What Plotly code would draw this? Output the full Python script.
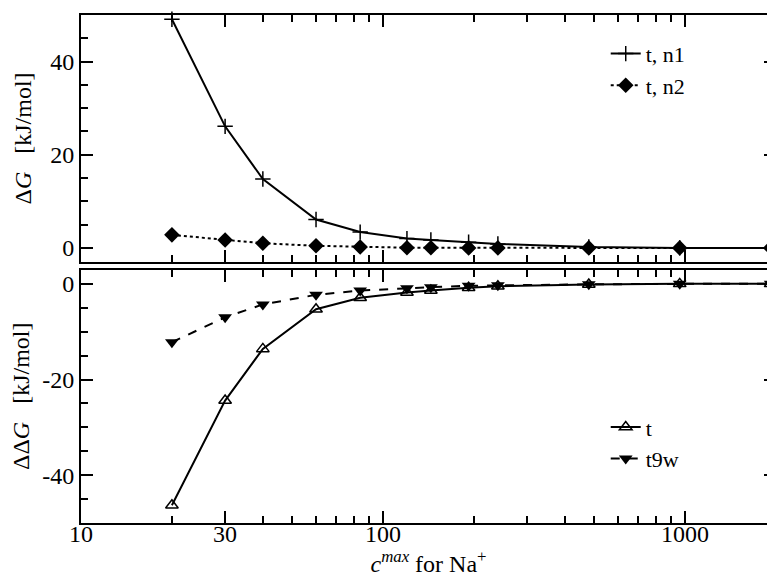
import numpy as np
import plotly.graph_objects as go

# ---------------------------------------------------------------------------
# Data
# ---------------------------------------------------------------------------
c_max = [20, 30, 40, 60, 84, 120, 144, 192, 240, 480, 960, 1920]

dG_n1 = [49.1, 26.1, 14.8, 6.1, 3.4, 2.0, 1.7, 1.2, 0.85, 0.2, 0.0, 0.0]
dG_n2 = [2.8, 1.7, 1.0, 0.45, 0.2, 0.05, 0.05, 0.0, 0.0, 0.0, 0.0, 0.0]

ddG_t = [-46.3, -24.4, -13.6, -5.3, -2.9, -1.8, -1.4, -0.8, -0.5, -0.15, 0.0, 0.0]
ddG_t9w = [-12.2, -7.0, -4.3, -2.3, -1.4, -0.9, -0.7, -0.4, -0.3, -0.1, 0.0, 0.0]

x_major = [10, 30, 100, 1000]
x_minor = [20, 40, 50, 60, 70, 80, 90, 200, 300, 400, 500, 600, 700, 800, 900]
y_top_ticks = [0, 20, 40]
y_bot_ticks = [-40, -20, 0]

FONT = "Liberation Serif, Times New Roman, Times, serif"
FS = 24

# ---------------------------------------------------------------------------
# Figure
# ---------------------------------------------------------------------------
fig = go.Figure()

fig.add_trace(go.Scatter(
    x=c_max, y=dG_n1, mode='lines+markers', name='t, n1',
    line=dict(color='black', width=2),
    marker=dict(symbol='cross-thin', size=11, line=dict(color='black', width=1.5)),
    xaxis='x', yaxis='y', legend='legend', cliponaxis=False
))
fig.add_trace(go.Scatter(
    x=c_max, y=dG_n2, mode='lines+markers', name='t, n2',
    line=dict(color='black', width=2, dash='dot'),
    marker=dict(symbol='diamond', size=12, color='black'),
    xaxis='x', yaxis='y', legend='legend', cliponaxis=False
))
fig.add_trace(go.Scatter(
    x=c_max, y=ddG_t, mode='lines+markers', name='t',
    line=dict(color='black', width=2),
    marker=dict(symbol='triangle-up-open', size=11, color='black',
                line=dict(width=1.5)),
    xaxis='x2', yaxis='y2', legend='legend2', cliponaxis=False
))
fig.add_trace(go.Scatter(
    x=c_max, y=ddG_t9w, mode='lines+markers', name='t9w',
    line=dict(color='black', width=2, dash='dash'),
    marker=dict(symbol='triangle-down', size=12, color='black'),
    xaxis='x2', yaxis='y2', legend='legend2', cliponaxis=False
))

axis_common = dict(
    showline=True, linecolor='black', linewidth=2, mirror='ticks',
    ticks='inside', ticklen=12, tickwidth=1.5, tickcolor='black',
    showgrid=False, zeroline=False,
    tickfont=dict(family=FONT, size=FS, color='black'),
)
xrange = [1, np.log10(2000)]
x_minor_cfg = dict(tickvals=x_minor, ticks='inside', ticklen=7,
                   tickwidth=1.5, tickcolor='black', showgrid=False)
y_minor_cfg = dict(dtick=5, ticks='inside', ticklen=7, tickwidth=1.5,
                   tickcolor='black', showgrid=False)

fig.update_layout(
    width=775, height=576,
    margin=dict(l=71, r=7, t=5, b=61),
    paper_bgcolor='white', plot_bgcolor='white',
    font=dict(family=FONT, color='black'),
    xaxis=dict(axis_common, type='log', range=xrange, anchor='y',
               domain=[0, 1], tickvals=x_major, showticklabels=False,
               minor=x_minor_cfg),
    yaxis=dict(axis_common, range=[-3, 50], tickvals=y_top_ticks,
               ticktext=[str(v) for v in y_top_ticks],
               domain=[0.514, 1], anchor='x', minor=y_minor_cfg,
               title=dict(text='Δ<i>G</i>&nbsp;&nbsp;&nbsp;[kJ/mol]',
                          font=dict(family=FONT, size=FS), standoff=12)),
    xaxis2=dict(axis_common, type='log', range=xrange, anchor='y2',
                domain=[0, 1], tickvals=x_major,
                ticktext=[str(v) for v in x_major],
                ticklabelstandoff=-12,
                minor=x_minor_cfg,
                title=dict(text='<i>c</i><sup><i>max</i></sup> for Na<sup>+</sup>',
                           font=dict(family=FONT, size=FS), standoff=0)),
    yaxis2=dict(axis_common, range=[-50, 3], tickvals=y_bot_ticks,
                ticktext=[str(v) for v in y_bot_ticks],
                domain=[0, 0.499], anchor='x2', minor=y_minor_cfg,
                title=dict(text='ΔΔ<i>G</i>&nbsp;&nbsp;&nbsp;[kJ/mol]',
                           font=dict(family=FONT, size=FS), standoff=12)),
    legend=dict(x=0.755, y=0.965, xanchor='left', yanchor='top',
                bgcolor='rgba(0,0,0,0)', font=dict(family=FONT, size=22),
                itemwidth=30, tracegroupgap=0),
    legend2=dict(x=0.755, y=0.23, xanchor='left', yanchor='top',
                 bgcolor='rgba(0,0,0,0)', font=dict(family=FONT, size=22),
                 itemwidth=30, tracegroupgap=0),
    showlegend=True,
)

fig.write_html("out.html")
